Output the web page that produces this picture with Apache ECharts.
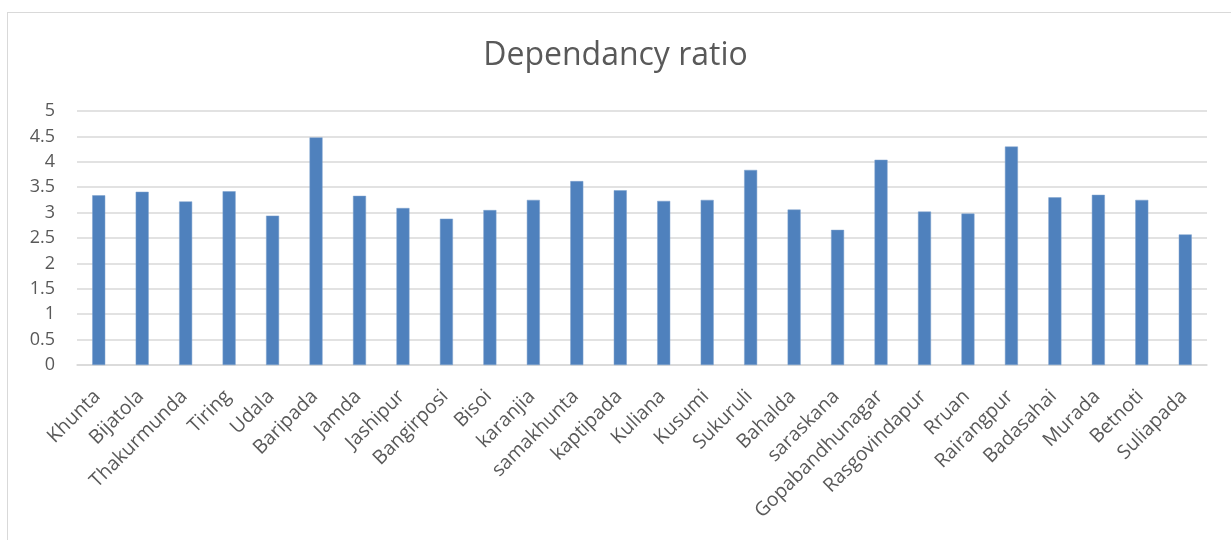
<!DOCTYPE html>
<html>
<head>
<meta charset="utf-8">
<script src="https://cdn.jsdelivr.net/npm/echarts@6/dist/echarts.min.js"></script>
<style>
  html, body { margin: 0; padding: 0; background: #fff; }
  #frame { position: absolute; left: 7px; top: 12px; width: 1230px; height: 540px; border: 1px solid #d9d9d9; box-sizing: border-box; }
  #chart { position: absolute; left: 0; top: 0; width: 1231px; height: 540px; }
</style>
</head>
<body>
<div id="frame"></div>
<div id="chart"></div>
<script>
const places = ['Khunta', 'Bijatola', 'Thakurmunda', 'Tiring', 'Udala', 'Baripada', 'Jamda', 'Jashipur',
  'Bangirposi', 'Bisoi', 'karanjia', 'samakhunta', 'kaptipada', 'Kuliana', 'Kusumi', 'Sukuruli',
  'Bahalda', 'saraskana', 'Gopabandhunagar', 'Rasgovindapur', 'Rruan', 'Rairangpur', 'Badasahai',
  'Murada', 'Betnoti', 'Suliapada'];
const ratio = [3.34, 3.41, 3.22, 3.42, 2.94, 4.48, 3.33, 3.09,
  2.88, 3.05, 3.25, 3.62, 3.44, 3.23, 3.25, 3.84,
  3.06, 2.66, 4.04, 3.02, 2.98, 4.30, 3.30,
  3.35, 3.25, 2.57];

const chart = echarts.init(document.getElementById('chart'));
const font = '"Open Sans", "Liberation Sans", sans-serif';
chart.setOption({
  animation: false,
  title: {
    text: 'Dependancy ratio',
    left: 'center',
    top: 35,
    textStyle: { fontFamily: font, fontSize: 32, fontWeight: 'normal', color: '#595959' }
  },
  grid: { left: 77, right: 24, top: 111, bottom: 175, containLabel: false },
  xAxis: {
    type: 'category',
    data: places,
    axisLine: { lineStyle: { color: '#d9d9d9', width: 1.5 } },
    axisTick: { show: false },
    axisLabel: { rotate: 45, interval: 0, margin: 27, padding: [0, 2, 0, 0], fontFamily: font, fontSize: 19.5, color: '#595959' }
  },
  yAxis: {
    type: 'value',
    min: 0,
    max: 5,
    interval: 0.5,
    axisLine: { show: false },
    axisTick: { show: false },
    splitLine: { lineStyle: { color: '#d9d9d9', width: 1.5 } },
    axisLabel: { margin: 22, fontFamily: font, fontSize: 18, color: '#595959' }
  },
  series: [{
    type: 'bar',
    data: ratio,
    barWidth: 13,
    itemStyle: { color: '#4f81bd', borderColor: '#7da0cc', borderWidth: 0.5 }
  }]
});
</script>
</body>
</html>
